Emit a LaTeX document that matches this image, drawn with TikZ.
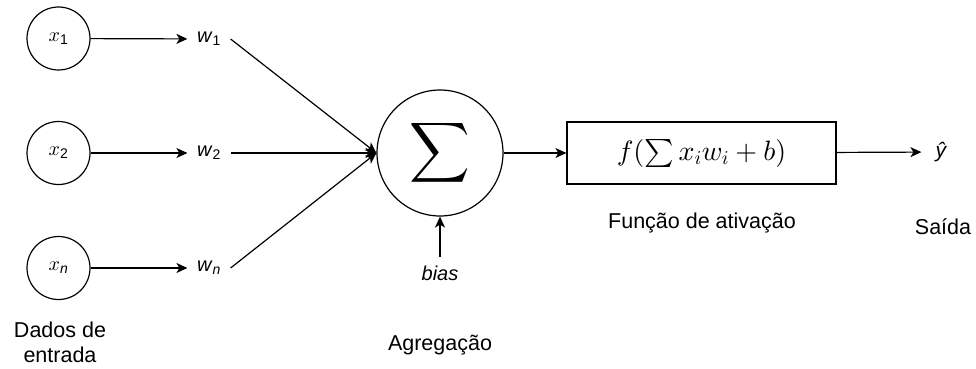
\documentclass[tikz,border=0pt]{standalone}
\usepackage{amsmath}
\usepackage{fontspec}
\setmainfont{Liberation Sans}
\DeclareFontShape{OMX}{cmex}{m}{n}{<-> cmex10}{}
\DeclareFontShape{OML}{cmm}{m}{it}{<-> cmmi10}{}
\DeclareFontShape{OMS}{cmsy}{m}{n}{<-> cmsy10}{}
\DeclareFontShape{OT1}{cmr}{m}{n}{<-> cmr10}{}
\usetikzlibrary{arrows.meta}
\begin{document}
\begin{tikzpicture}[x=1pt,y=-1pt,
  line width=1.2pt,
  arr/.style={-{Stealth[length=11pt,width=10pt,inset=3pt]}},
  inp/.style={circle,draw,minimum size=63pt,inner sep=0pt,font=\fontsize{20}{24}\selectfont},
  wlab/.style={inner sep=0pt,minimum width=42pt,font=\fontsize{20}{24}\selectfont},
  lab/.style={inner sep=0pt,align=center,font=\fontsize{21.5}{25}\selectfont}]
\useasboundingbox (0,0) rectangle (976,369);
% input nodes
\node[inp] (x1) at (58.5,38.5) {$x$\textsubscript{1}};
\node[inp] (x2) at (58.5,153) {$x$\textsubscript{2}};
\node[inp] (xn) at (58.5,268) {$x$\textsubscript{\textit{n}}};
% weights
\node[wlab] (w1) at (209,39) {\textit{w}\textsubscript{1}};
\node[wlab] (w2) at (209,153) {\textit{w}\textsubscript{2}};
\node[wlab] (wn) at (209,268) {\textit{w}\textsubscript{\textit{n}}};
% summation
\node[circle,draw,minimum size=126pt,inner sep=0pt] (sig) at (440,153)
  {\fontsize{42}{50}\selectfont$\displaystyle\sum$};
% activation
\node[draw,minimum width=269pt,minimum height=62pt,inner sep=0pt] (act) at (701.5,153)
  {\fontsize{28}{32}\selectfont$f(\sum x_iw_i+b)$};
% output
\node[inner sep=0pt,minimum width=39pt,font=\fontsize{21}{25}\selectfont] (yh) at (941.5,152) {\textit{ŷ}};
% bias
\node[lab,inner sep=8pt,font=\fontsize{20}{24}\selectfont] (bias) at (440,273) {\textit{bias}};
% labels
\node[lab] (dados) at (60,342) {Dados de\\entrada};
\node[lab] (agr) at (440,345) {Agregação};
\node[lab] (fun) at (702,223) {Função de ativação};
\node[lab] (sai) at (943,227) {Saída};
% connectors
\draw[arr] (x1) -- (w1);
\draw[arr] (x2) -- (w2);
\draw[arr] (xn) -- (wn);
\draw[arr] (w1.east) -- (sig.west);
\draw[arr] (w2.east) -- (sig.west);
\draw[arr] (wn.east) -- (sig.west);
\draw[arr] (bias.north) -- (sig.south);
\draw[arr] (sig) -- (act);
\draw[arr] (act) -- (yh);
\end{tikzpicture}
\end{document}
